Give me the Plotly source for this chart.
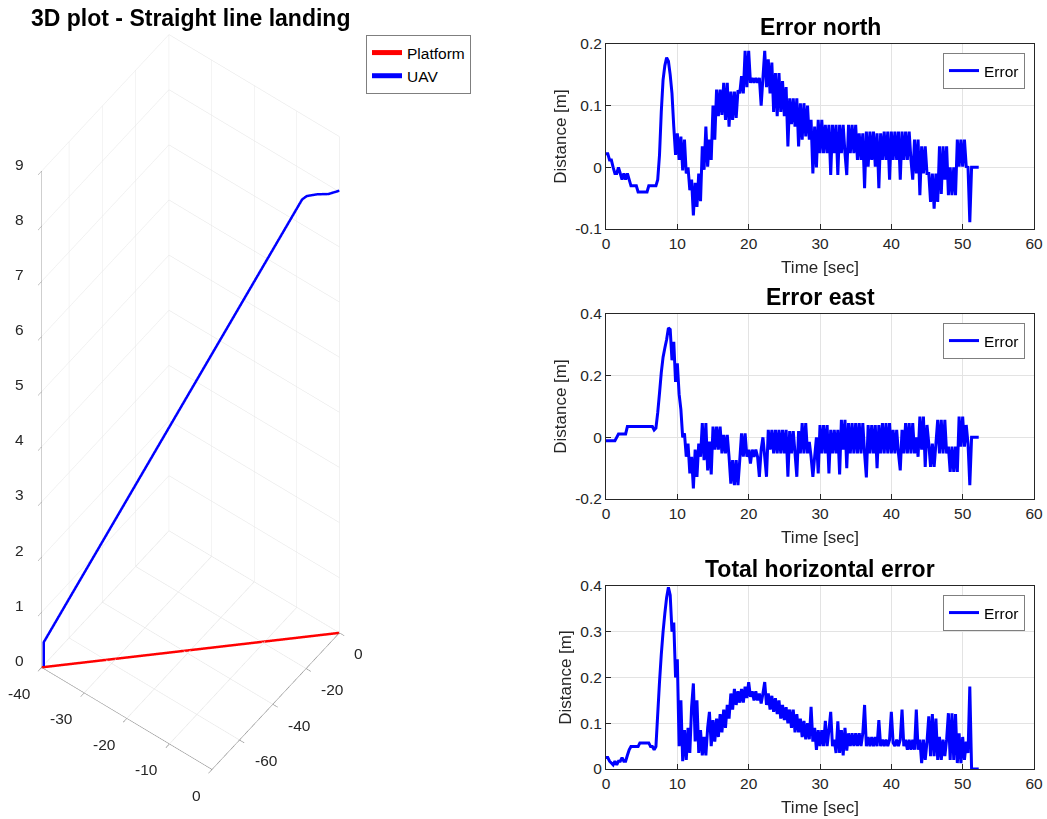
import plotly.graph_objects as go

# ---------------- data ----------------
time_s = [
    0, 0.25, 0.5, 0.75, 1, 1.25, 1.5, 1.75,
    2, 2.25, 2.5, 2.75, 3, 3.25, 3.5, 3.75,
    4, 4.25, 4.5, 4.75, 5, 5.25, 5.5, 5.75,
    6, 6.25, 6.5, 6.75, 7, 7.25, 7.5, 7.75,
    8, 8.25, 8.5, 8.75, 9, 9.25, 9.5, 9.75,
    10, 10.25, 10.5, 10.75, 11, 11.25, 11.5, 11.75,
    12, 12.25, 12.5, 12.75, 13, 13.25, 13.5, 13.75,
    14, 14.25, 14.5, 14.75, 15, 15.25, 15.5, 15.75,
    16, 16.25, 16.5, 16.75, 17, 17.25, 17.5, 17.75,
    18, 18.25, 18.5, 18.75, 19, 19.25, 19.5, 19.75,
    20, 20.25, 20.5, 20.75, 21, 21.25, 21.5, 21.75,
    22, 22.25, 22.5, 22.75, 23, 23.25, 23.5, 23.75,
    24, 24.25, 24.5, 24.75, 25, 25.25, 25.5, 25.75,
    26, 26.25, 26.5, 26.75, 27, 27.25, 27.5, 27.75,
    28, 28.25, 28.5, 28.75, 29, 29.25, 29.5, 29.75,
    30, 30.25, 30.5, 30.75, 31, 31.25, 31.5, 31.75,
    32, 32.25, 32.5, 32.75, 33, 33.25, 33.5, 33.75,
    34, 34.25, 34.5, 34.75, 35, 35.25, 35.5, 35.75,
    36, 36.25, 36.5, 36.75, 37, 37.25, 37.5, 37.75,
    38, 38.25, 38.5, 38.75, 39, 39.25, 39.5, 39.75,
    40, 40.25, 40.5, 40.75, 41, 41.25, 41.5, 41.75,
    42, 42.25, 42.5, 42.75, 43, 43.25, 43.5, 43.75,
    44, 44.25, 44.5, 44.75, 45, 45.25, 45.5, 45.75,
    46, 46.25, 46.5, 46.75, 47, 47.25, 47.5, 47.75,
    48, 48.25, 48.5, 48.75, 49, 49.25, 49.5, 49.75,
    50, 50.25, 50.5, 50.75, 51, 51.25, 51.5, 51.75,
    52, 52.25,
]

error_north = [
    0.022, 0.022, 0.012, 0.012, 0.0, -0.01, -0.01, 0.0,
    -0.01, -0.02, -0.01, -0.02, -0.01, -0.02, -0.03, -0.03,
    -0.03, -0.03, -0.04, -0.04, -0.04, -0.04, -0.04, -0.04,
    -0.03, -0.03, -0.03, -0.03, -0.03, -0.02, 0.02, 0.09,
    0.142, 0.165, 0.178, 0.172, 0.15, 0.12, 0.066, 0.02,
    0.055, 0.012, 0.05, -0.005, 0.045, -0.01, 0.0, -0.037,
    -0.02, -0.078, -0.025, -0.064, -0.01, -0.055, 0.034, -0.004,
    0.066, 0.001, 0.045, 0.012, 0.10, 0.045, 0.126, 0.083,
    0.126, 0.085, 0.137, 0.077, 0.137, 0.066, 0.123, 0.077,
    0.123, 0.08, 0.125, 0.12, 0.148, 0.12, 0.189, 0.13,
    0.189, 0.137, 0.145, 0.137, 0.145, 0.137, 0.145, 0.10,
    0.145, 0.189, 0.13, 0.175, 0.12, 0.17, 0.09, 0.153,
    0.083, 0.153, 0.09, 0.14, 0.083, 0.13, 0.034, 0.112,
    0.07, 0.112, 0.066, 0.112, 0.034, 0.104, 0.045, 0.104,
    0.05, 0.1, 0.045, 0.077, -0.01, 0.066, 0.0, 0.077,
    0.023, 0.077, 0.023, 0.069, 0.023, 0.069, -0.0125, 0.069,
    0.023, 0.069, -0.0125, 0.069, 0.023, 0.069, 0.023, -0.0125,
    0.069, 0.023, 0.069, 0.023, 0.069, 0.012, 0.055, 0.012,
    0.055, -0.034, 0.058, 0.001, 0.058, 0.012, 0.058, 0.001,
    0.055, -0.034, 0.055, 0.012, 0.058, 0.012, 0.058, -0.02,
    0.058, 0.012, 0.058, 0.012, 0.058, -0.02, 0.058, 0.012,
    0.058, 0.012, 0.058, 0.012, -0.02, 0.045, -0.01, 0.045,
    -0.045, 0.034, -0.01, 0.034, -0.01, -0.01, -0.056, -0.01,
    -0.067, -0.01, -0.056, 0.034, -0.043, 0.034, -0.02, 0.034,
    -0.045, 0.0, -0.045, 0.0, -0.045, 0.045, 0.001, 0.045,
    0.001, 0.045, 0.001, 0.0, -0.089, 0.0, 0.0, 0.0,
    0.0, 0.0,
]

error_east = [
    -0.011, -0.011, -0.011, -0.011, -0.011, -0.011, 0.0, 0.011,
    0.011, 0.011, 0.011, 0.011, 0.035, 0.035, 0.035, 0.035,
    0.035, 0.035, 0.035, 0.035, 0.035, 0.035, 0.035, 0.035,
    0.035, 0.035, 0.035, 0.024, 0.03, 0.08, 0.143, 0.21,
    0.26, 0.29, 0.317, 0.355, 0.35, 0.25, 0.31, 0.18,
    0.24, 0.14, 0.09, 0.0, 0.013, -0.063, -0.02, -0.117,
    -0.063, -0.166, -0.04, -0.128, -0.02, -0.063, 0.046, -0.074,
    0.046, -0.107, -0.014, -0.12, 0.035, -0.04, 0.035, -0.04,
    0.035, -0.052, 0.008, -0.052, 0.008, -0.063, -0.15, -0.074,
    -0.155, -0.074, -0.155, -0.074, 0.013, -0.063, 0.013, -0.063,
    -0.04, -0.085, -0.04, -0.063, -0.04, -0.063, -0.128, -0.04,
    0.0, -0.063, -0.128, 0.024, -0.04, 0.024, -0.052, 0.024,
    -0.052, 0.024, -0.052, 0.024, -0.052, 0.024, -0.128, 0.02,
    -0.052, 0.02, -0.052, -0.128, 0.02, -0.052, 0.046, -0.052,
    0.046, -0.052, -0.015, -0.063, -0.128, -0.063, 0.0, -0.117,
    0.04, -0.052, 0.04, -0.052, 0.04, -0.117, 0.024, -0.052,
    0.024, -0.052, 0.024, -0.12, 0.057, -0.04, 0.057, -0.1,
    0.046, -0.052, 0.046, -0.052, 0.046, -0.052, 0.046, -0.052,
    0.046, -0.052, -0.13, 0.04, -0.052, 0.04, -0.052, 0.04,
    -0.1, 0.04, -0.052, 0.046, -0.052, 0.046, -0.052, 0.046,
    -0.052, 0.024, -0.052, 0.024, -0.052, -0.107, 0.024, -0.052,
    0.046, -0.052, 0.046, -0.052, 0.046, -0.052, 0.0, -0.063,
    0.067, -0.04, 0.067, -0.096, 0.04, -0.02, -0.096, -0.02,
    -0.096, -0.02, 0.057, -0.052, 0.057, -0.052, 0.057, -0.052,
    -0.03, -0.112, -0.03, -0.112, -0.03, -0.112, 0.067, -0.03,
    0.067, -0.03, 0.04, -0.02, -0.155, 0.0, 0.0, 0.0,
    0.0, 0.0,
]

error_total = [
    0.025, 0.025, 0.017, 0.013, 0.009, 0.017, 0.009, 0.017,
    0.017, 0.025, 0.017, 0.017, 0.03, 0.042, 0.049, 0.049,
    0.049, 0.049, 0.049, 0.057, 0.057, 0.057, 0.057, 0.057,
    0.057, 0.049, 0.049, 0.042, 0.049, 0.12, 0.19, 0.25,
    0.30, 0.34, 0.375, 0.397, 0.38, 0.30, 0.32, 0.20,
    0.24, 0.05, 0.15, 0.017, 0.085, 0.02, 0.09, 0.035,
    0.136, 0.187, 0.06, 0.15, 0.035, 0.085, 0.03, 0.07,
    0.03, 0.09, 0.125, 0.05, 0.107, 0.06, 0.11, 0.07,
    0.12, 0.08, 0.13, 0.09, 0.14, 0.11, 0.165, 0.13,
    0.175, 0.14, 0.17, 0.145, 0.175, 0.145, 0.18, 0.155,
    0.19, 0.158, 0.17, 0.15, 0.17, 0.15, 0.165, 0.143,
    0.165, 0.19, 0.14, 0.165, 0.13, 0.16, 0.125, 0.155,
    0.12, 0.15, 0.11, 0.14, 0.107, 0.135, 0.1, 0.13,
    0.09, 0.13, 0.08, 0.12, 0.08, 0.11, 0.07, 0.105,
    0.065, 0.1, 0.065, 0.136, 0.06, 0.09, 0.042, 0.085,
    0.05, 0.085, 0.05, 0.105, 0.05, 0.085, 0.125, 0.05,
    0.064, 0.035, 0.104, 0.035, 0.085, 0.03, 0.09, 0.04,
    0.078, 0.05, 0.078, 0.05, 0.078, 0.05, 0.078, 0.05,
    0.078, 0.14, 0.05, 0.07, 0.05, 0.07, 0.05, 0.07,
    0.05, 0.107, 0.05, 0.064, 0.05, 0.064, 0.05, 0.064,
    0.125, 0.057, 0.05, 0.064, 0.05, 0.064, 0.13, 0.05,
    0.064, 0.042, 0.064, 0.042, 0.064, 0.042, 0.13, 0.042,
    0.064, 0.013, 0.064, 0.02, 0.06, 0.115, 0.028, 0.12,
    0.028, 0.11, 0.02, 0.07, 0.02, 0.064, 0.028, 0.064,
    0.122, 0.02, 0.122, 0.02, 0.12, 0.013, 0.078, 0.013,
    0.07, 0.02, 0.06, 0.035, 0.18, 0.0, 0.0, 0.0,
    0.0, 0.0,
]

# 3D trajectories
platform_x = [0, -40]
platform_y = [0, -76.5]
platform_z = [0, 0]

uav_x = [0, -1.5, -3.0, -4.4, -5.0, -39.8, -39.8]
uav_y = [0, -2.8, -5.7, -8.4, -9.6, -75.7, -75.7]
uav_z = [8.02, 7.98, 8.0, 7.99, 7.94, 0.44, 0.0]

x3d_ticks = [-40, -30, -20, -10, 0]
y3d_ticks = [-60, -40, -20, 0]
z3d_ticks = [0, 1, 2, 3, 4, 5, 6, 7, 8, 9]
x3d_range = [-40, 0]
y3d_range = [-76.5, 0]
z3d_range = [0, 9]

x_ticks = [0, 10, 20, 30, 40, 50, 60]

# ---------------- figure ----------------
W, H = 1047, 819
FONT = "Liberation Sans, Arial, sans-serif"
TICKC = "#262626"
GRIDC = "#e3e3e3"
BLUE = "#0000ff"

fig = go.Figure()

def px_dom_x(a, b):
    return [a / W, b / W]

def px_dom_y(top, bottom):
    return [1 - bottom / H, 1 - top / H]

# 3D
fig.add_trace(go.Scatter3d(x=platform_x, y=platform_y, z=platform_z, mode="lines",
                           line=dict(color="#ff0000", width=5), name="Platform",
                           legend="legend", scene="scene"))
fig.add_trace(go.Scatter3d(x=uav_x, y=uav_y, z=uav_z, mode="lines",
                           line=dict(color=BLUE, width=5), name="UAV",
                           legend="legend", scene="scene"))

panels = [
    ("Error north", error_north, [-0.1, 0.2], [-0.1, 0, 0.1, 0.2], ["-0.1", "0", "0.1", "0.2"], 44, 229, "legend2"),
    ("Error east", error_east, [-0.2, 0.4], [-0.2, 0, 0.2, 0.4], ["-0.2", "0", "0.2", "0.4"], 314, 499, "legend3"),
    ("Total horizontal error", error_total, [0, 0.4], [0, 0.1, 0.2, 0.3, 0.4], ["0", "0.1", "0.2", "0.3", "0.4"], 586, 769, "legend4"),
]

annotations = [dict(text="<b>3D plot - Straight line landing</b>", x=190 / W, y=1 - 18 / H,
                    xref="paper", yref="paper", showarrow=False,
                    font=dict(size=23, color="black", family=FONT), xanchor="center", yanchor="middle")]

# horizontal (MATLAB-like) tick labels for the 3D axes, placed through scene annotations
tick_font = dict(size=15.5, color=TICKC, family=FONT)
scene_ann = []
for v in x3d_ticks:
    scene_ann.append(dict(x=v, y=y3d_range[0], z=z3d_range[0], text=str(v), showarrow=False,
                          xanchor="right", yanchor="middle", xshift=-9, yshift=-26, font=tick_font))
for v in y3d_ticks:
    scene_ann.append(dict(x=x3d_range[1], y=v, z=z3d_range[0], text=str(v), showarrow=False,
                          xanchor="left", yanchor="middle", xshift=13, yshift=-21, font=tick_font))
for v in z3d_ticks:
    scene_ann.append(dict(x=x3d_range[0], y=y3d_range[0], z=v, text=str(v), showarrow=False,
                          xanchor="right", yanchor="middle", xshift=-16, yshift=7, font=tick_font))

S = 0.572
layout = dict(
    width=W, height=H, margin=dict(l=0, r=0, t=0, b=0, autoexpand=False),
    paper_bgcolor="white", plot_bgcolor="white",
    font=dict(family=FONT, color=TICKC, size=15.5),
    hovermode=False,
    scene=dict(
        domain=dict(x=px_dom_x(0, 381), y=px_dom_y(30, 774)),
        aspectmode="manual", aspectratio=dict(x=1 * S, y=1 * S, z=3.9 * S),
        camera=dict(eye=dict(x=0.358 * 3, y=-0.479 * 3, z=0.8016 * 3),
                    up=dict(x=0, y=0, z=1), center=dict(x=0, y=0, z=0),
                    projection=dict(type="orthographic")),
        bgcolor="white",
        annotations=scene_ann,
    ),
    legend=dict(x=471 / W, y=1 - 35 / H, xanchor="right", yanchor="top",
                bordercolor="#7f7f7f", borderwidth=1, bgcolor="white",
                font=dict(size=15.5, color="black", family=FONT), tracegroupgap=0),
)

axis3d = dict(showgrid=True, gridcolor=GRIDC, gridwidth=1, showbackground=False,
              showline=True, linecolor="#7f7f7f", linewidth=1, zeroline=False,
              ticks="outside", tickcolor="#7f7f7f", ticklen=6, showspikes=False,
              showticklabels=False, title=dict(text=""))
layout["scene"]["xaxis"] = dict(axis3d, range=x3d_range, tickvals=x3d_ticks)
layout["scene"]["yaxis"] = dict(axis3d, range=y3d_range, tickvals=y3d_ticks)
layout["scene"]["zaxis"] = dict(axis3d, range=z3d_range, tickvals=z3d_ticks)

for i, (title, vals, yr, ytv, ytt, top, bottom, leg) in enumerate(panels, start=1):
    xa = "xaxis" if i == 1 else f"xaxis{i}"
    ya = "yaxis" if i == 1 else f"yaxis{i}"
    xref = "x" if i == 1 else f"x{i}"
    yref = "y" if i == 1 else f"y{i}"
    fig.add_trace(go.Scatter(x=time_s, y=vals, mode="lines",
                             line=dict(color=BLUE, width=3, simplify=False),
                             name="Error", xaxis=xref, yaxis=yref, legend=leg))
    layout[xa] = dict(domain=px_dom_x(606, 1034), anchor=yref, range=[0, 60], tickvals=x_ticks,
                      showgrid=True, gridcolor=GRIDC, zeroline=False, showline=True, mirror=True,
                      linecolor="#262626", linewidth=1, ticks="inside", ticklen=5, tickcolor="#262626",
                      tickfont=dict(size=15.5, color=TICKC),
                      title=dict(text="Time [sec]", font=dict(size=17, color=TICKC), standoff=10))
    layout[ya] = dict(domain=px_dom_y(top, bottom), anchor=xref, range=yr, tickvals=ytv, ticktext=ytt,
                      showgrid=True, gridcolor=GRIDC, zeroline=False, showline=True, mirror=True,
                      linecolor="#262626", linewidth=1, ticks="inside", ticklen=5, tickcolor="#262626",
                      tickfont=dict(size=15.5, color=TICKC),
                      title=dict(text="Distance [m]", font=dict(size=17, color=TICKC), standoff=4))
    layout[leg] = dict(x=1025 / W, y=1 - (top + 9) / H, xanchor="right", yanchor="top",
                       bordercolor="#7f7f7f", borderwidth=1, bgcolor="white",
                       font=dict(size=15.5, color="black", family=FONT))
    annotations.append(dict(text=f"<b>{title}</b>", x=820 / W, y=1 - (top - 17) / H,
                            xref="paper", yref="paper", showarrow=False,
                            font=dict(size=23, color="black", family=FONT),
                            xanchor="center", yanchor="middle"))

layout["annotations"] = annotations
fig.update_layout(**layout)
fig.write_html("out.html")
